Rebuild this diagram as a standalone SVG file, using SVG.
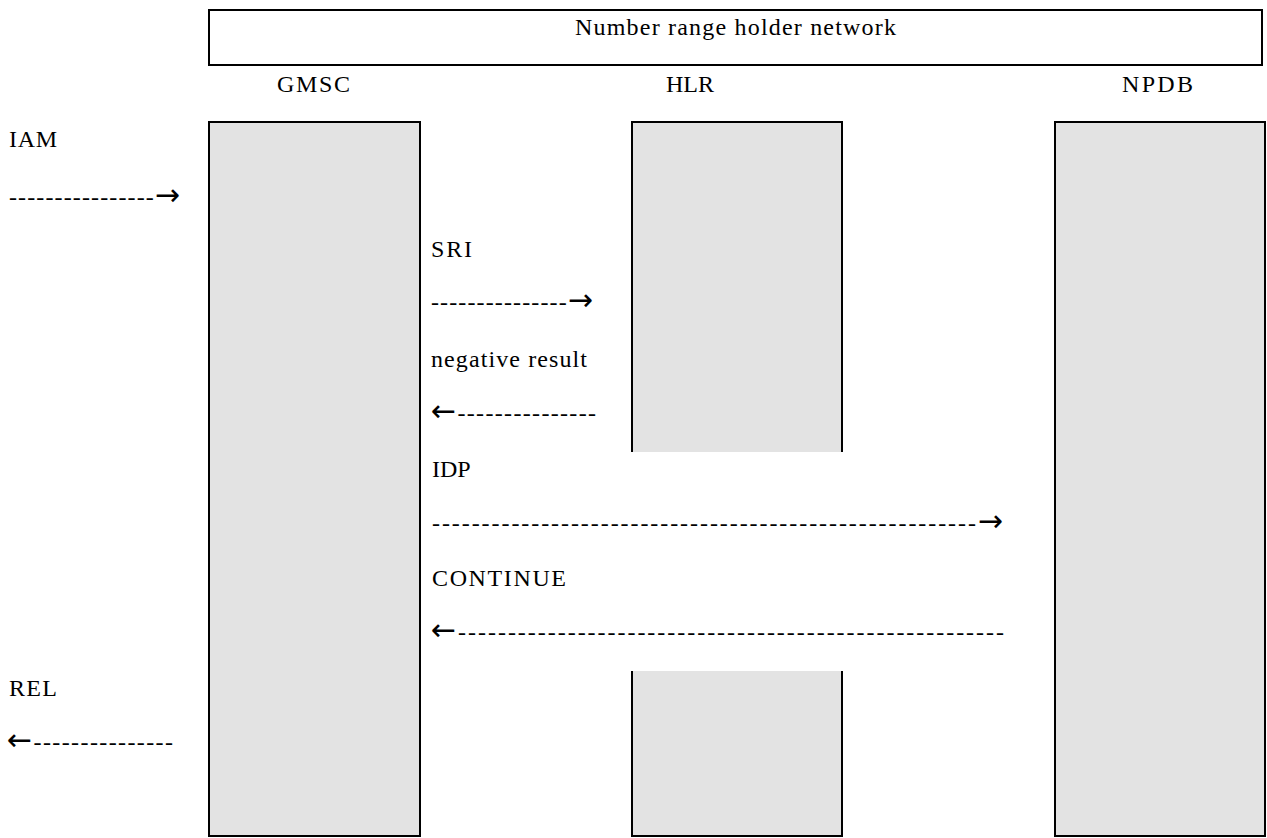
<svg xmlns="http://www.w3.org/2000/svg" width="1267" height="838" viewBox="0 0 1267 838">
<style>
  .t { font-family: "Liberation Serif", "Times New Roman", serif; font-size: 24px; fill: #000; }
  .a { font-family: "DejaVu Sans", sans-serif; font-size: 30px; }
  .box { fill: #e3e3e3; stroke: #000; stroke-width: 2; }
  .frame { fill: #fff; stroke: #000; stroke-width: 2; }
  .edge { fill: none; stroke: #000; stroke-width: 2; }
</style>
<rect width="1267" height="838" fill="#fff"/>
<g id="network">
  <rect class="frame" x="209" y="10" width="1053" height="55"/>
  <text class="t" x="575" y="35" textLength="321" lengthAdjust="spacing">Number range holder network</text>
</g>
<g id="gmsc">
  <text class="t" x="277" y="92" textLength="73" lengthAdjust="spacing">GMSC</text>
  <rect class="box" x="209" y="122" width="211" height="714"/>
</g>
<g id="hlr">
  <text class="t" x="666" y="92">HLR</text>
  <rect x="632" y="122" width="210" height="330" fill="#e3e3e3"/>
  <rect x="632" y="671" width="210" height="165" fill="#e3e3e3"/>
  <path class="edge" d="M632,452 V122 H842 V452 M632,671 V836 H842 V671"/>
</g>
<g id="npdb">
  <text class="t" x="1122" y="92" textLength="71" lengthAdjust="spacing">NPDB</text>
  <rect class="box" x="1055" y="122" width="210" height="714"/>
</g>
<g id="connectors">
  <text class="t" x="9" y="147" textLength="48" lengthAdjust="spacing">IAM</text>
  <text class="t" x="9" y="205" textLength="171" lengthAdjust="spacing">----------------<tspan class="a">→</tspan></text>
  <text class="t" x="431" y="257" textLength="41" lengthAdjust="spacing">SRI</text>
  <text class="t" x="431" y="310" textLength="162" lengthAdjust="spacing">---------------<tspan class="a">→</tspan></text>
  <text class="t" x="431" y="367" textLength="156" lengthAdjust="spacing">negative result</text>
  <text class="t" x="431" y="421" textLength="165" lengthAdjust="spacing"><tspan class="a">←</tspan>---------------</text>
  <text class="t" x="432" y="477">IDP</text>
  <text class="t" x="432" y="531" textLength="571" lengthAdjust="spacing">-------------------------------------------------------<tspan class="a">→</tspan></text>
  <text class="t" x="432" y="586" textLength="134" lengthAdjust="spacing">CONTINUE</text>
  <text class="t" x="431" y="640" textLength="573" lengthAdjust="spacing"><tspan class="a">←</tspan>-------------------------------------------------------</text>
  <text class="t" x="9" y="696" textLength="48" lengthAdjust="spacing">REL</text>
  <text class="t" x="7" y="750" textLength="166" lengthAdjust="spacing"><tspan class="a">←</tspan>---------------</text>
</g>
</svg>
